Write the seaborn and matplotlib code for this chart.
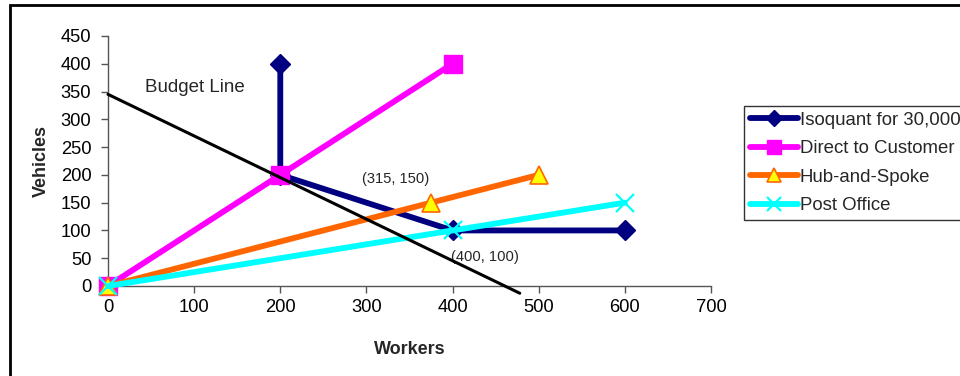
import matplotlib
matplotlib.use("Agg")
import matplotlib.pyplot as plt
import seaborn as sns
import pandas as pd
from matplotlib.patches import Rectangle

# Data
iso_x = [200, 200, 400, 600]
iso_y = [400, 200, 100, 100]
direct_x = [0, 200, 400]
direct_y = [0, 200, 400]
hub_x = [0, 375, 500]
hub_y = [0, 150, 200]
post_x = [0, 400, 600]
post_y = [0, 100, 150]
budget_x = [0, 478]
budget_y = [345, -13]
x_ticks = [0, 100, 200, 300, 400, 500, 600, 700]
y_ticks = [0, 50, 100, 150, 200, 250, 300, 350, 400, 450]

sns.set_theme(style="white")
plt.rcParams['font.family'] = ['Liberation Sans', 'DejaVu Sans']

fig = plt.figure(figsize=(9.6, 3.76), dpi=100)
ax = fig.add_axes([108/960, 1-286/376, (711-108)/960, (286-36)/376])

series = [
    ("Isoquant for 30,000", iso_x, iso_y, dict(color="#000080", marker="D", ms=10.5, mfc="#000080", mec="#000080", mew=1)),
    ("Direct to Customer", direct_x, direct_y, dict(color="#FF00FF", marker="s", ms=13, mfc="#FF00FF", mec="#FF00FF", mew=1)),
    ("Hub-and-Spoke", hub_x, hub_y, dict(color="#FF6600", marker="^", ms=12.5, mfc="#FFFF00", mec="#FF6600", mew=1.2)),
    ("Post Office", post_x, post_y, dict(color="#00FFFF", marker="x", ms=12.5, mfc="#00FFFF", mec="#00FFFF", mew=1.6)),
]

for name, xs, ys, st in series:
    df = pd.DataFrame({"x": xs, "y": ys})
    sns.lineplot(data=df, x="x", y="y", ax=ax, sort=False, estimator=None,
                 label=name, lw=4.2, clip_on=False, zorder=3, **st)

bdf = pd.DataFrame({"x": budget_x, "y": budget_y})
sns.lineplot(data=bdf, x="x", y="y", ax=ax, sort=False, estimator=None,
             color="black", lw=2.2, clip_on=False, zorder=4, legend=False)

ax.set_xlim(0, 700)
ax.set_ylim(0, 450)
ax.set_xticks(x_ticks)
ax.set_yticks(y_ticks)
ax.tick_params(axis="both", which="major", direction="out", length=5, width=1,
               color="#555555", labelsize=13.2, labelcolor="black", pad=4,
               bottom=True, left=True)
ax.tick_params(axis="y", pad=7)
for s in ["top", "right"]:
    ax.spines[s].set_visible(False)
for s in ["left", "bottom"]:
    ax.spines[s].set_color("#555555")
    ax.spines[s].set_linewidth(1)
ax.set_xlabel("Workers", fontsize=13, fontweight="bold", labelpad=18)
ax.set_ylabel("Vehicles", fontsize=13, fontweight="bold", labelpad=8)
ax.patch.set_alpha(0)

ax.text(101, 358, "Budget Line", fontsize=13.5, ha="center", va="center")
ax.text(334, 193, "(315, 150)", fontsize=10.6, ha="center", va="center")
ax.text(437, 52, "(400, 100)", fontsize=10.6, ha="center", va="center")

leg = ax.legend(loc="upper left", bbox_to_anchor=(744/960, 1-106/376),
                bbox_transform=fig.transFigure, frameon=True, fontsize=13.4,
                handlelength=2.6, handletextpad=0.1, borderpad=0.3,
                labelspacing=0.62, borderaxespad=0, fancybox=False,
                markerscale=0.75)
leg.get_frame().set_edgecolor("black")
leg.get_frame().set_linewidth(1)
leg.set_zorder(10)

fig.patches.append(Rectangle((10/960, -0.1), 1.2, 1.1 - 5/376,
                             transform=fig.transFigure, fill=False,
                             edgecolor="black", linewidth=2, zorder=0))

fig.savefig("out.png", dpi=100)
